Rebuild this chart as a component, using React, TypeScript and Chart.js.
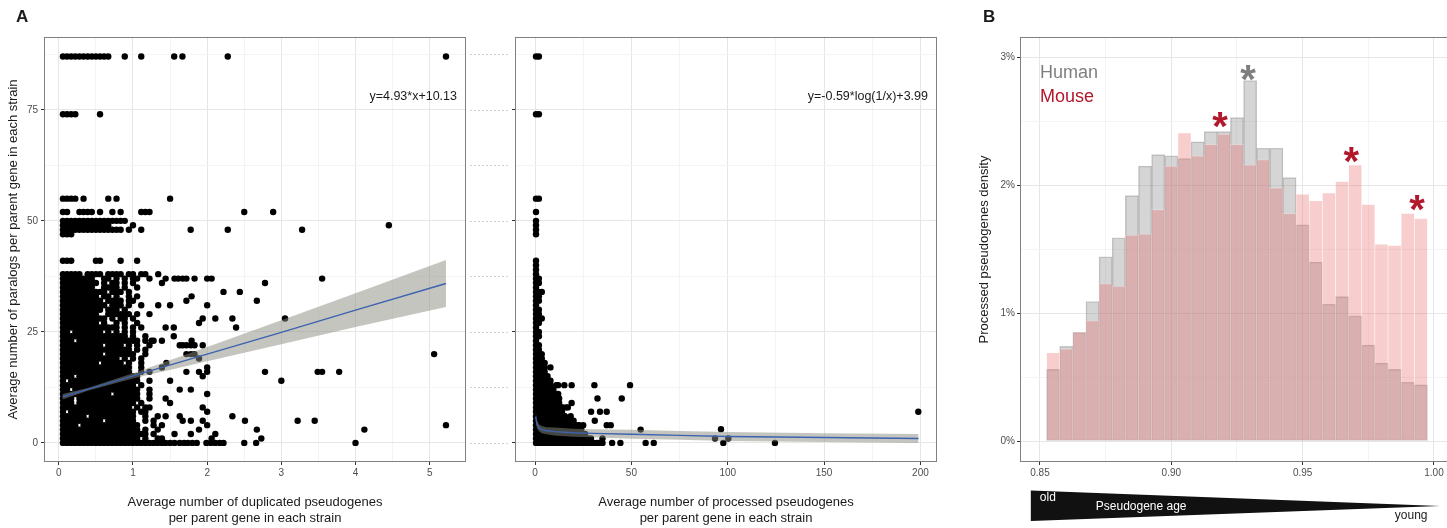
import React, { useEffect, useRef } from 'react';
import { Chart, registerables } from 'chart.js';

Chart.register(...registerables);

const FONT = "'Liberation Sans', Arial, Helvetica, sans-serif";
Chart.defaults.font.family = FONT;

const TICK_COLOR = '#4d4d4d';
const TITLE_COLOR = '#1a1a1a';
const MAJOR_GRID = '#e6e6e6';
const MINOR_GRID = '#f4f4f4';
const FRAME = '#808080';
const LINE_BLUE = '#3d62b0';
const BAND = 'rgba(140,140,130,0.5)';

// ---------------- Panel A, left: duplicated pseudogenes ----------------
const dupXTicks = [0, 0.5, 1, 1.5, 2, 2.5, 3, 3.5, 4, 4.5, 5];
const dupXMajor = [0, 1, 2, 3, 4, 5];
const dupXLabels = ['0', '1', '2', '3', '4', '5'];
const parYTicks = [0, 12.5, 25, 37.5, 50, 62.5, 75, 87.5];
const parYMajor = [0, 25, 50, 75];
const parYLabels = ['0', '25', '50', '75'];

// rows of points: [y, pattern]; each '#' is a point at x = (column+1)/18
const dupGrid: [number, string][] = [
  [87, '############...#...#.......#.#..........#'],
  [74, '####.....#'],
  [55, '####.#.....#.#............#'],
  [52, '##..####.#..#.#....###......................#'],
  [50, '################'],
  [49, '############.....#'],
  [48, '###############.#..#...........#........#'],
  [47, '###'],
  [41, '###.....##....#...#'],
  [38, '#####.####.####.##.##'],
  [37, '########..##.#.#.##..#'],
  [36, '#########.#.##.#.#'],
  [35, '########..####.#..#'],
  [34, '###########.###.#'],
  [33, '#########.##.#..#.#'],
  [32, '##########.####.##'],
  [31, '###########.###.#..#'],
  [30, '##########.###.#'],
  [29, '#########..######.#..#'],
  [28, '###########.#.##.#'],
  [27, '#########.#..#.#..#'],
  [26, '##############.#.#.#'],
  [25, '##.#######.#.#.#.#'],
  [24, '################.#..#'],
  [23, '###.###############.#.#'],
  [22, '##########.####.#.#..#'],
  [21, '#################.#.#'],
  [20, '##########.#######..#'],
  [19, '##############.#.#.#'],
  [18, '#########.#####.#..#'],
  [17, '#################..#'],
  [16, '#################..#.#'],
  [15, '###.###############'],
  [14, '#.#################..#'],
  [13, '##################.#'],
  [12, '##.################..#'],
  [11, '############.######..#'],
  [10, '###.###############..#'],
  [9, '###.##############.#'],
  [8, '#################.#.##'],
  [7, '#.################.##'],
  [6, '######.###########..#..#'],
  [5, '##########.#######..#.#'],
  [4, '####.##############...#'],
  [3, '###################.#..#'],
  [2, '#####################.#'],
  [1, '###################.#..#'],
  [0, '########################'],
];

const dupSparse: [number, number][] = [
  [5.22, 87], [2.89, 52], [3.28, 48], [4.45, 49],
  [1.34, 38], [1.44, 37], [1.56, 37], [1.61, 37], [1.67, 37], [1.72, 37], [1.83, 37], [2.0, 37], [2.06, 37], [3.55, 37],
  [1.39, 36], [2.78, 36], [2.22, 34], [2.44, 34], [1.72, 32], [1.79, 33], [2.67, 32], [2.0, 31], [1.5, 31], [1.34, 31],
  [3.05, 28], [1.89, 27], [1.94, 28], [2.11, 28], [2.34, 28], [2.39, 26], [1.44, 26], [1.55, 26], [1.55, 24], [1.39, 23], [1.25, 23],
  [1.63, 22], [1.67, 22], [1.72, 22], [1.78, 22], [1.83, 22], [1.79, 23], [1.94, 22], [1.72, 20], [1.78, 20], [1.83, 20], [1.89, 19], [5.06, 20],
  [1.45, 18], [1.5, 14], [1.39, 17], [1.72, 16], [1.89, 16], [1.94, 15], [2.0, 16], [2.0, 17], [2.78, 16], [3.0, 14], [3.49, 16], [3.55, 16], [3.78, 16],
  [1.63, 12], [1.78, 12], [2.0, 11], [1.44, 10], [1.5, 9], [1.94, 8], [2.0, 7],
  [1.63, 6], [2.34, 6], [1.44, 6], [1.67, 5], [1.78, 5], [1.94, 5], [2.51, 5], [3.22, 5], [3.45, 5], [1.39, 4], [2.0, 4], [5.22, 4],
  [1.56, 2], [1.78, 2], [1.89, 3], [2.11, 2], [2.67, 3], [4.12, 3], [2.73, 1], [2.06, 1], [1.39, 1],
  [1.39, 0], [1.44, 0], [1.5, 0], [1.56, 0], [1.63, 0], [1.69, 0], [1.74, 0], [1.8, 0], [1.86, 0], [1.99, 0], [2.05, 0], [2.11, 0], [2.17, 0], [2.22, 0], [2.5, 0], [2.66, 0], [4.0, 0],
];

const dupFitX = [0.05, 0.4, 1, 2, 3, 4, 5.22];
const dupFitY = [10.4, 12.1, 15.1, 20.0, 24.9, 29.9, 35.9];
const dupBandLo = [9.8, 11.8, 14.5, 18.4, 22.2, 26.1, 30.6];
const dupBandHi = [11.0, 12.4, 15.7, 21.6, 27.6, 33.7, 41.2];

// ---------------- Panel A, right: processed pseudogenes ----------------
const procXTicks = [0, 25, 50, 75, 100, 125, 150, 175, 200];
const procXMajor = [0, 50, 100, 150, 200];
const procXLabels = ['0', '50', '100', '150', '200'];

// rows of points: [y, pattern]; each '#' is a point at x = 0.5 + 1.5*column
const procGrid: [number, string][] = [
  [87, '##'], [74, '##'], [55, '##'], [52, '#'], [50, '#'], [49, '#'], [48, '#'], [47, '#'], [41, '#'],
  [40, '#'], [39, '#'], [38, '#'], [37, '##'], [36, '##'], [35, '#'], [34, '###'], [33, '##'], [32, '##'],
  [31, '#'], [30, '##'], [29, '##'], [28, '###'], [27, '##'], [26, '#'], [25, '##'], [24, '##'], [23, '#'],
  [22, '##'], [21, '##'], [20, '###'], [19, '###'], [18, '####'], [17, '####.#'], [16, '####'], [15, '#####'],
  [14, '######'], [13, '######.#'], [12, '#######'], [11, '########'], [10, '#######.#'], [9, '#########'],
  [8, '##########.#'], [7, '##########'], [6, '###########.#'], [5, '############'], [4, '##############.#'],
  [3, '###############'], [2, '################'], [1, '#################.#'], [0, '######################'],
];

const procSparse: [number, number][] = [
  [12.0, 13], [15.2, 13], [19.0, 13], [30.8, 13], [49.3, 13], [12, 11], [19, 9], [32.4, 10], [45, 10],
  [29.1, 7], [33.7, 7], [37.2, 7], [14, 8], [16, 8], [15, 6], [18, 5], [20, 5], [31, 5], [22, 4], [25, 4],
  [37.2, 4], [39.3, 4], [19, 3], [24, 3], [26, 2], [54.8, 3], [35, 1], [29, 1], [33, 0], [35, 0], [40, 0],
  [44.3, 0], [57.4, 0], [61.6, 0], [93.4, 1], [96.5, 3.1], [100.3, 1], [97.7, 0], [124.5, 0], [198.9, 7],
];

const procFitX = [0.3, 1, 2, 3.5, 6, 10, 20, 30, 50, 75, 100, 150, 199];
const procFitY = [5.9, 4.2, 3.4, 3.0, 2.75, 2.55, 2.3, 2.15, 1.95, 1.7, 1.45, 1.2, 1.0];
const procBandLo = [4.7, 3.3, 2.6, 2.2, 1.95, 1.65, 1.4, 1.25, 0.95, 0.7, 0.45, 0.2, 0.0];
const procBandHi = [7.1, 5.1, 4.2, 3.8, 3.55, 3.45, 3.2, 3.05, 2.95, 2.7, 2.45, 2.2, 2.0];

// ---------------- Panel B: histogram ----------------
const binCenters = [
  0.855, 0.86, 0.865, 0.87, 0.875, 0.88, 0.885, 0.89, 0.895, 0.9, 0.905, 0.91, 0.915, 0.92, 0.925,
  0.93, 0.935, 0.94, 0.945, 0.95, 0.955, 0.96, 0.965, 0.97, 0.975, 0.98, 0.985, 0.99, 0.995,
];
const humanDensity = [
  0.56, 0.74, 0.85, 1.09, 1.44, 1.59, 1.92, 2.15, 2.24, 2.23, 2.21, 2.34, 2.42, 2.42, 2.53,
  2.82, 2.29, 2.29, 2.06, 1.69, 1.40, 1.07, 1.13, 0.98, 0.75, 0.61, 0.56, 0.46, 0.44,
];
const mouseDensity = [
  0.69, 0.72, 0.85, 0.94, 1.23, 1.21, 1.61, 1.62, 1.81, 2.15, 2.41, 2.23, 2.32, 2.40, 2.32,
  2.16, 2.20, 1.98, 1.78, 1.93, 1.88, 1.94, 2.03, 2.16, 1.85, 1.54, 1.53, 1.78, 1.74,
];
const histXTicks = [0.85, 0.875, 0.9, 0.925, 0.95, 0.975, 1.0];
const histXMajor = [0.85, 0.9, 0.95, 1.0];
const histXLabels = ['0.85', '0.90', '0.95', '1.00'];
const histYTicks = [0, 0.5, 1, 1.5, 2, 2.5, 3];
const histYMajor = [0, 1, 2, 3];
const histYLabels = ['0%', '1%', '2%', '3%'];

const starX = [0.9292, 0.9185, 0.9685, 0.9935];
const starY = [2.91, 2.54, 2.27, 1.89];
const starColor = ['#7f7f7f', '#b2182b', '#b2182b', '#b2182b'];

const ageStart = 0.8465;
const ageEnd = 1.0023;

// ---------------- helpers ----------------
function gridPoints(rows: [number, string][], x0: number, dx: number) {
  const pts: { x: number; y: number }[] = [];
  for (const [y, pattern] of rows) {
    for (let i = 0; i < pattern.length; i++) {
      if (pattern[i] === '#') pts.push({ x: x0 + i * dx, y });
    }
  }
  return pts;
}
const toXY = (xs: number[], ys: number[]) => xs.map((x, i) => ({ x, y: ys[i] }));

function gridOpts(majors: number[]) {
  return {
    drawOnChartArea: true,
    drawTicks: true,
    tickLength: 3,
    lineWidth: 1,
    color: (c: any) => (majors.includes(c.tick?.value) ? MAJOR_GRID : MINOR_GRID),
    tickColor: (c: any) => (majors.includes(c.tick?.value) ? '#333333' : 'rgba(0,0,0,0)'),
  };
}
function tickOpts(majors: number[], labels: string[] | null, pad: number) {
  return {
    autoSkip: false,
    maxRotation: 0,
    minRotation: 0,
    padding: pad,
    color: TICK_COLOR,
    font: { family: FONT, size: 10 },
    callback: (v: any) => {
      if (!labels) return '';
      const i = majors.indexOf(v);
      return i >= 0 ? labels[i] : '';
    },
  };
}
const setTicks = (values: number[]) => (s: any) => {
  s.ticks = values.map((v) => ({ value: v }));
};

const framePlugin = {
  id: 'frame',
  afterDraw(chart: any) {
    const { ctx, chartArea: a } = chart;
    ctx.save();
    ctx.strokeStyle = FRAME;
    ctx.lineWidth = 1;
    ctx.strokeRect(Math.round(a.left) + 0.5, Math.round(a.top) + 0.5, Math.round(a.right - a.left) - 1, Math.round(a.bottom - a.top) - 1);
    ctx.restore();
  },
};

function textPlugin(id: string, draw: (chart: any) => void) {
  return { id, afterDraw: draw };
}

const baseOptions = (padding: any) => ({
  animation: false as const,
  responsive: false,
  events: [] as any[],
  layout: { padding },
  plugins: { legend: { display: false }, tooltip: { enabled: false } },
});

function fitDatasets(fx: number[], fy: number[], lo: number[], hi: number[]) {
  return [
    { type: 'line', data: toXY(fx, fy), borderColor: LINE_BLUE, borderWidth: 1.4, pointRadius: 0, fill: false, tension: 0, order: 0 },
    { type: 'line', data: toXY(fx, lo), borderColor: 'rgba(0,0,0,0)', pointRadius: 0, fill: false, order: 2 },
    { type: 'line', data: toXY(fx, hi), borderColor: 'rgba(0,0,0,0)', pointRadius: 0, fill: '-1', backgroundColor: BAND, order: 1 },
  ];
}

function buildDup() {
  const pts = gridPoints(dupGrid, 1 / 18, 1 / 18).concat(dupSparse.map(([x, y]) => ({ x, y })));
  return {
    type: 'scatter',
    data: {
      datasets: [
        ...fitDatasets(dupFitX, dupFitY, dupBandLo, dupBandHi),
        { data: pts, pointRadius: 3.2, backgroundColor: '#000', borderWidth: 0, order: 3 },
      ],
    },
    options: {
      ...baseOptions({ top: 37, right: 4, bottom: 2, left: 0 }),
      scales: {
        x: {
          type: 'linear', min: -0.2, max: 5.49,
          afterBuildTicks: setTicks(dupXTicks),
          afterFit: (s: any) => { s.height = 64; },
          ticks: tickOpts(dupXMajor, dupXLabels, 2),
          grid: gridOpts(dupXMajor),
          border: { display: false },
          title: { display: true, text: ['Average number of duplicated pseudogenes', 'per parent gene in each strain'], color: TITLE_COLOR, font: { family: FONT, size: 13 }, padding: { top: 0, bottom: 0 } },
        },
        y: {
          type: 'linear', min: -4.3, max: 91.4,
          afterBuildTicks: setTicks(parYTicks),
          afterFit: (s: any) => { s.width = 44; },
          ticks: tickOpts(parYMajor, parYLabels, 3),
          grid: gridOpts(parYMajor),
          border: { display: false },
          title: { display: true, text: 'Average number of paralogs per parent gene in each strain', color: TITLE_COLOR, font: { family: FONT, size: 13 }, padding: { top: 6, bottom: 0 } },
        },
      },
    },
    plugins: [
      framePlugin,
      textPlugin('dupText', (chart: any) => {
        const { ctx, chartArea: a } = chart;
        ctx.save();
        ctx.fillStyle = '#1a1a1a';
        ctx.font = `12.5px ${FONT}`;
        ctx.textAlign = 'right';
        ctx.textBaseline = 'middle';
        ctx.fillText('y=4.93*x+10.13', a.right - 9, 97);
        ctx.font = `bold 17px ${FONT}`;
        ctx.textAlign = 'left';
        ctx.textBaseline = 'alphabetic';
        ctx.fillText('A', 16, 22);
        ctx.restore();
      }),
    ],
  };
}

function buildProc() {
  const pts = gridPoints(procGrid, 0.5, 1.5).concat(procSparse.map(([x, y]) => ({ x, y })));
  return {
    type: 'scatter',
    data: {
      datasets: [
        ...fitDatasets(procFitX, procFitY, procBandLo, procBandHi),
        { data: pts, pointRadius: 3.2, backgroundColor: '#000', borderWidth: 0, order: 3 },
      ],
    },
    options: {
      ...baseOptions({ top: 37, right: 8, bottom: 2, left: 0 }),
      scales: {
        x: {
          type: 'linear', min: -10.4, max: 208.6,
          afterBuildTicks: setTicks(procXTicks),
          afterFit: (s: any) => { s.height = 64; },
          ticks: tickOpts(procXMajor, procXLabels, 2),
          grid: gridOpts(procXMajor),
          border: { display: false },
          title: { display: true, text: ['Average number of processed pseudogenes', 'per parent gene in each strain'], color: TITLE_COLOR, font: { family: FONT, size: 13 }, padding: { top: 0, bottom: 0 } },
        },
        y: {
          type: 'linear', min: -4.3, max: 91.4,
          afterBuildTicks: setTicks(parYTicks),
          afterFit: (s: any) => { s.width = 45; },
          ticks: tickOpts(parYMajor, null, 3),
          grid: gridOpts(parYMajor),
          border: { display: false },
        },
      },
    },
    plugins: [
      framePlugin,
      textPlugin('procText', (chart: any) => {
        const { ctx, chartArea: a, scales } = chart;
        ctx.save();
        ctx.strokeStyle = '#d0d0d0';
        ctx.lineWidth = 1;
        ctx.setLineDash([2, 2]);
        for (const v of parYTicks) {
          const y = Math.round(scales.y.getPixelForValue(v)) + 0.5;
          ctx.beginPath();
          ctx.moveTo(0, y);
          ctx.lineTo(a.left - 5, y);
          ctx.stroke();
        }
        ctx.setLineDash([]);
        ctx.fillStyle = '#1a1a1a';
        ctx.font = `12.5px ${FONT}`;
        ctx.textAlign = 'right';
        ctx.textBaseline = 'middle';
        ctx.fillText('y=-0.59*log(1/x)+3.99', a.right - 9, 97);
        ctx.restore();
      }),
    ],
  };
}

function buildHist() {
  const common = { grouped: false, barPercentage: 1, categoryPercentage: 1, borderSkipped: false };
  return {
    type: 'bar',
    data: {
      datasets: [
        { ...common, label: 'Mouse', data: toXY(binCenters, mouseDensity), backgroundColor: 'rgba(230,90,90,0.3)', borderColor: 'rgba(255,255,255,0.3)', borderWidth: 0.6, order: 0 },
        { ...common, label: 'Human', data: toXY(binCenters, humanDensity), backgroundColor: 'rgba(150,150,150,0.4)', borderColor: 'rgba(120,120,120,0.4)', borderWidth: 0.8, order: 1 },
      ],
    },
    options: {
      ...baseOptions({ top: 37, right: 5, bottom: 2, left: 0 }),
      scales: {
        x: {
          type: 'linear', min: 0.84239, max: 1.0099, offset: false,
          afterBuildTicks: setTicks(histXTicks),
          afterFit: (s: any) => { s.height = 64; },
          ticks: tickOpts(histXMajor, histXLabels, 2),
          grid: { ...gridOpts(histXMajor), offset: false },
          border: { display: false },
        },
        y: {
          type: 'linear', min: -0.164, max: 3.16,
          afterBuildTicks: setTicks(histYTicks),
          afterFit: (s: any) => { s.width = 45; },
          ticks: tickOpts(histYMajor, histYLabels, 2),
          grid: gridOpts(histYMajor),
          border: { display: false },
          title: { display: true, text: 'Processed pseudogenes density', color: TITLE_COLOR, font: { family: FONT, size: 13 }, padding: { top: 2, bottom: 0 } },
        },
      },
    },
    plugins: [
      framePlugin,
      textPlugin('histText', (chart: any) => {
        const { ctx, chartArea: a, scales } = chart;
        ctx.save();
        ctx.textBaseline = 'middle';
        ctx.textAlign = 'left';
        ctx.font = `18px ${FONT}`;
        ctx.fillStyle = '#7f7f7f';
        ctx.fillText('Human', a.left + 20, 73);
        ctx.fillStyle = '#b2182b';
        ctx.fillText('Mouse', a.left + 20, 97);
        ctx.font = `bold 40px ${FONT}`;
        ctx.textAlign = 'center';
        ctx.textBaseline = 'alphabetic';
        starX.forEach((sx, i) => {
          ctx.fillStyle = starColor[i];
          ctx.fillText('*', scales.x.getPixelForValue(sx), scales.y.getPixelForValue(starY[i]) + 24);
        });
        // age wedge
        const x0 = scales.x.getPixelForValue(ageStart);
        const x1 = scales.x.getPixelForValue(ageEnd);
        ctx.fillStyle = '#111';
        ctx.beginPath();
        ctx.moveTo(x0, 490.5);
        ctx.lineTo(x1, 506);
        ctx.lineTo(x0, 521);
        ctx.closePath();
        ctx.fill();
        ctx.textAlign = 'left';
        ctx.textBaseline = 'middle';
        ctx.font = `12px ${FONT}`;
        ctx.fillStyle = '#fff';
        ctx.fillText('old', x0 + 9, 498);
        ctx.fillText('Pseudogene age', x0 + 65, 507);
        ctx.fillStyle = '#1a1a1a';
        ctx.fillText('young', x0 + 364, 516);
        ctx.font = `bold 17px ${FONT}`;
        ctx.textBaseline = 'alphabetic';
        ctx.fillText('B', 8, 22);
        ctx.restore();
      }),
    ],
  };
}

function ChartCanvas({ left, width, height, build }: { left: number; width: number; height: number; build: () => any }) {
  const ref = useRef<HTMLCanvasElement | null>(null);
  useEffect(() => {
    const chart = new Chart(ref.current as HTMLCanvasElement, build());
    return () => chart.destroy();
  }, []);
  return <canvas ref={ref} width={width} height={height} style={{ position: 'absolute', left, top: 0, width, height }} />;
}

export default function App() {
  return (
    <div style={{ position: 'fixed', left: 0, top: 0, width: 1447, height: 528, overflow: 'hidden', background: '#fff' }}>
      <ChartCanvas left={0} width={470} height={528} build={buildDup} />
      <ChartCanvas left={470} width={475} height={528} build={buildProc} />
      <ChartCanvas left={975} width={490} height={528} build={buildHist} />
    </div>
  );
}
